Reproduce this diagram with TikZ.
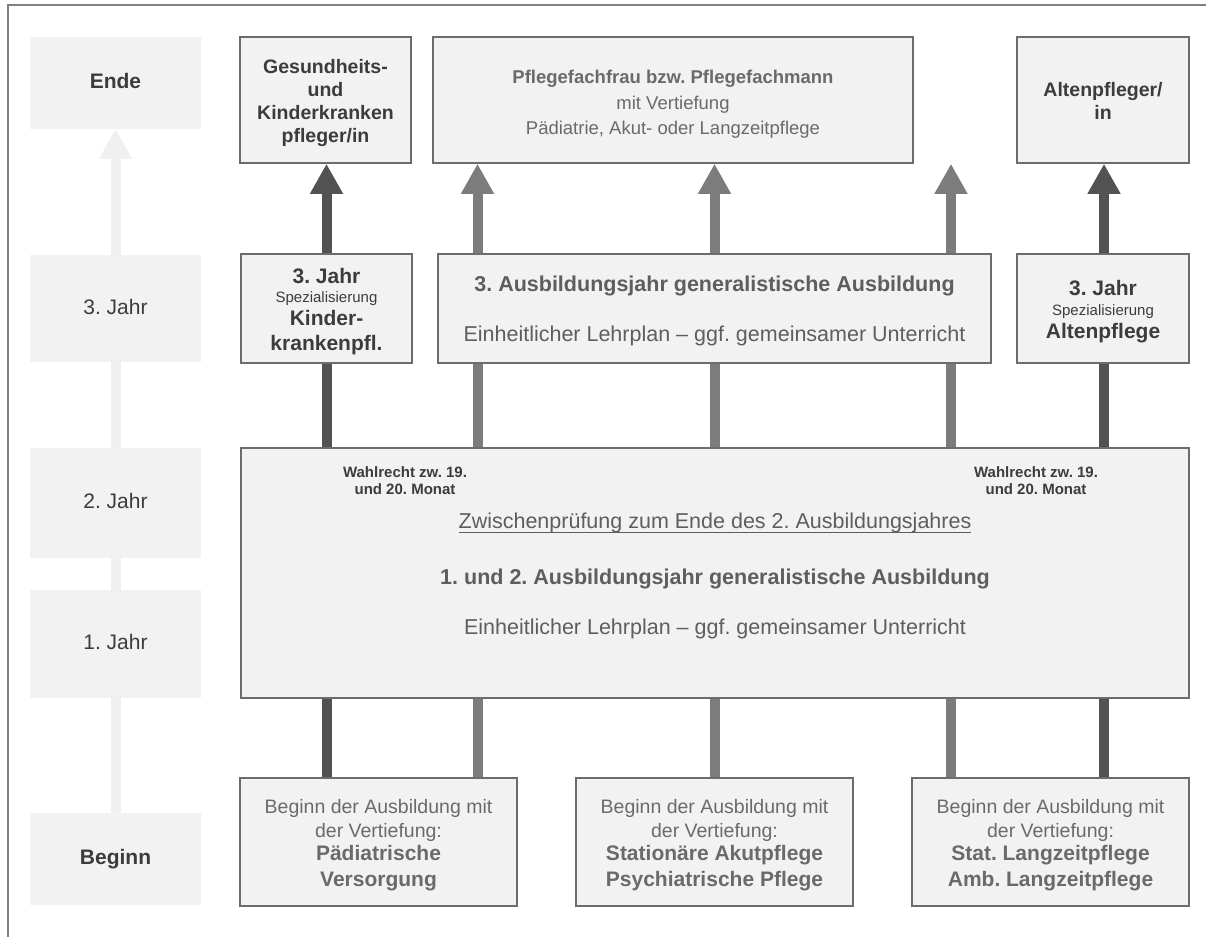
\documentclass[tikz,border=0pt]{standalone}
\usepackage{fontspec}
\setmainfont{Liberation Sans}
\usetikzlibrary{arrows.meta,calc}
\definecolor{boxfill}{HTML}{F2F2F2}
\definecolor{boxline}{HTML}{6C6C6C}
\definecolor{darkbar}{HTML}{525252}
\definecolor{midbar}{HTML}{7C7C7C}
\definecolor{lightbar}{HTML}{F0F0F0}
\definecolor{txtdark}{HTML}{3C3C3C}
\definecolor{txtmid}{HTML}{5E5E5E}
\definecolor{txtlight}{HTML}{6A6A6A}
\definecolor{framec}{HTML}{808080}
\newcommand\myul[1]{\setbox0\hbox{#1}\rlap{\rule[-5pt]{\wd0}{1.2pt}}\box0}
\frenchspacing
\begin{document}
\frenchspacing
\begin{tikzpicture}[x=1pt,y=-1pt,
  lab/.style={fill=boxfill, inner sep=0pt, outer sep=0pt, minimum width=171pt, text=txtdark,
    font=\fontsize{21}{25}\selectfont, text height=15pt, text depth=4pt},
  box/.style={draw=boxline, line width=1.6pt, fill=boxfill, inner sep=0pt},
  txt/.style={inner sep=0pt, align=center},
  bar/.style={line width=10pt},
  tip/.style={-{Triangle[length=30pt 0 0, width=31pt 0 0]}},
]
\useasboundingbox (0,0) rectangle (1206,936);
\fill[white] (0,0) rectangle (1206,936);
\draw[framec, line width=2pt] (8,950) -- (8,5) -- (1220,5);

% left column
\node[lab, minimum height=92pt, font=\bfseries\fontsize{21}{25}\selectfont] (ende) at (115.5,83) {Ende};
\node[lab, minimum height=107pt] (j3) at (115.5,308.5) {3. Jahr};
\node[lab, minimum height=110pt] (j2) at (115.5,503) {2. Jahr};
\node[lab, minimum height=108pt] (j1) at (115.5,644) {1. Jahr};
\node[lab, minimum height=92pt, font=\bfseries\fontsize{21}{25}\selectfont] (beg) at (115.5,859) {Beginn};

\draw[bar,lightbar] (beg.north) -- (j1.south);
\draw[bar,lightbar] (j1.north) -- (j2.south);
\draw[bar,lightbar] (j2.north) -- (j3.south);
\draw[bar,lightbar,tip] (j3.north) -- (ende.south);

% boxes
\node[box, minimum width=171pt, minimum height=126pt] (gk) at (325.5,100) {};
\node[box, minimum width=480pt, minimum height=126pt] (pf) at (673,100) {};
\node[box, minimum width=172pt, minimum height=126pt] (ap) at (1103,100) {};
\node[box, minimum width=171pt, minimum height=109pt] (k3) at (326.5,308.5) {};
\node[box, minimum width=553pt, minimum height=109pt] (a3) at (714.5,308.5) {};
\node[box, minimum width=172pt, minimum height=109pt] (al3) at (1103,308.5) {};
\node[box, minimum width=948pt, minimum height=250pt] (big) at (715,573) {};
\node[box, minimum width=277pt, minimum height=128pt] (b1) at (378.5,842) {};
\node[box, minimum width=277pt, minimum height=128pt] (b2) at (714.5,842) {};
\node[box, minimum width=277pt, minimum height=128pt] (b3) at (1050.5,842) {};

% texts
\node[txt, text=txtdark, font=\bfseries\fontsize{19.5}{23}\selectfont] (gkT) at ($(gk.center)+(0,3.5)$) {Gesundheits-\\und\\Kinderkranken\\pfleger/in};
\node[txt, text=txtlight, font=\fontsize{18.5}{25.5}\selectfont] (pfT) at ($(pf.center)+(0,4.3)$) {\textbf{Pflegefachfrau bzw. Pflegefachmann}\\mit Vertiefung\\Pädiatrie, Akut- oder Langzeitpflege};
\node[txt, text=txtdark, font=\bfseries\fontsize{19.5}{23}\selectfont] (apT) at ($(ap.center)+(0,1.4)$) {Altenpfleger/\\in};

\node[txt, text=txtdark, font=\fontsize{21}{21}\selectfont] (k3T) at ($(k3.center)+(0,3)$) {\bfseries 3. Jahr\\[-2pt]\fontsize{15}{18}\selectfont Spezialisierung\\[2.5pt]\bfseries Kinder-\\[3.5pt]\bfseries krankenpfl.};
\node[txt, text=txtmid, font=\fontsize{21.5}{23}\selectfont] (a3T) at ($(a3.center)+(0,2.5)$) {\textbf{3. Ausbildungsjahr generalistische Ausbildung}\\[27pt]Einheitlicher Lehrplan – ggf. gemeinsamer Unterricht};
\node[txt, text=txtdark, font=\fontsize{21}{21}\selectfont] (al3T) at ($(al3.center)+(0,3)$) {\bfseries 3. Jahr\\[-1pt]\fontsize{15}{18}\selectfont Spezialisierung\\[2pt]\bfseries Altenpflege};

\node[txt, text=txtmid, font=\fontsize{21.5}{23}\selectfont] (bigT) at ($(big.center)+(0,2.7)$) {\myul{Zwischenprüfung zum Ende des 2. Ausbildungsjahres}\\[33.5pt]\textbf{1. und 2. Ausbildungsjahr generalistische Ausbildung}\\[27pt]Einheitlicher Lehrplan – ggf. gemeinsamer Unterricht};
\node[txt, text=txtdark, font=\bfseries\fontsize{15}{17}\selectfont] (wl) at (405,480.4) {Wahlrecht zw. 19.\\und 20. Monat};
\node[txt, text=txtdark, font=\bfseries\fontsize{15}{17}\selectfont] (wr) at (1036,480.4) {Wahlrecht zw. 19.\\und 20. Monat};

\node[txt, text=txtlight, font=\fontsize{19.5}{21}\selectfont] (b1T) at ($(b1.center)+(0,3)$) {Beginn der Ausbildung mit\\[3pt]der Vertiefung:\\[2.5pt]\bfseries\fontsize{21}{21}\selectfont Pädiatrische\\[5pt]\bfseries\fontsize{21}{21}\selectfont Versorgung};
\node[txt, text=txtlight, font=\fontsize{19.5}{21}\selectfont] (b2T) at ($(b2.center)+(0,3)$) {Beginn der Ausbildung mit\\[3pt]der Vertiefung:\\[2.5pt]\bfseries\fontsize{21}{21}\selectfont Stationäre Akutpflege\\[5pt]\bfseries\fontsize{21}{21}\selectfont Psychiatrische Pflege};
\node[txt, text=txtlight, font=\fontsize{19.5}{21}\selectfont] (b3T) at ($(b3.center)+(0,3)$) {Beginn der Ausbildung mit\\[3pt]der Vertiefung:\\[2.5pt]\bfseries\fontsize{21}{21}\selectfont Stat. Langzeitpflege\\[5pt]\bfseries\fontsize{21}{21}\selectfont Amb. Langzeitpflege};

% bars
\coordinate (x1) at (326.5,0);
\coordinate (x2) at (477.5,0);
\coordinate (x3) at (714.5,0);
\coordinate (x4) at (951,0);
\coordinate (x5) at (1104,0);

\draw[bar,darkbar] (x1 |- b1.north) -- (x1 |- big.south);
\draw[bar,darkbar] (x1 |- big.north) -- (x1 |- k3.south);
\draw[bar,darkbar,tip] (x1 |- k3.north) -- (x1 |- gk.south);

\draw[bar,midbar] (x2 |- b1.north) -- (x2 |- big.south);
\draw[bar,midbar] (x2 |- big.north) -- (x2 |- a3.south);
\draw[bar,midbar,tip] (x2 |- a3.north) -- (x2 |- pf.south);

\draw[bar,midbar] (x3 |- b2.north) -- (x3 |- big.south);
\draw[bar,midbar] (x3 |- big.north) -- (x3 |- a3.south);
\draw[bar,midbar,tip] (x3 |- a3.north) -- (x3 |- pf.south);

\draw[bar,midbar] (x4 |- b3.north) -- (x4 |- big.south);
\draw[bar,midbar] (x4 |- big.north) -- (x4 |- a3.south);
\draw[bar,midbar,tip] (x4 |- a3.north) -- (x4 |- pf.south);

\draw[bar,darkbar] (x5 |- b3.north) -- (x5 |- big.south);
\draw[bar,darkbar] (x5 |- big.north) -- (x5 |- al3.south);
\draw[bar,darkbar,tip] (x5 |- al3.north) -- (x5 |- ap.south);
\end{tikzpicture}
\end{document}
